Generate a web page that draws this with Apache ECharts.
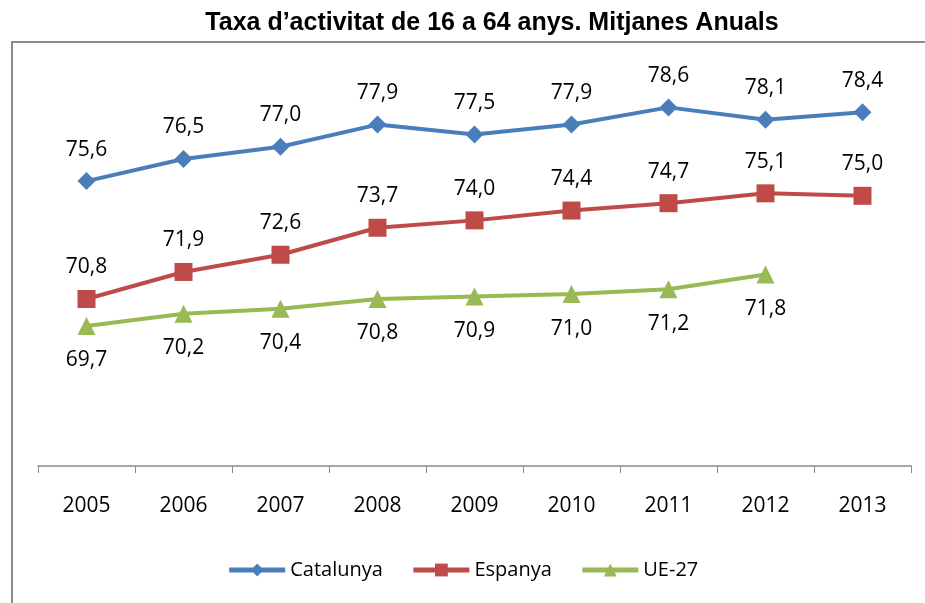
<!DOCTYPE html>
<html>
<head>
<meta charset="utf-8">
<script src="https://cdn.jsdelivr.net/npm/echarts@6/dist/echarts.min.js"></script>
<style>
  html, body { margin: 0; padding: 0; background: #fff; }
  #chart { width: 925px; height: 603px; }
</style>
</head>
<body>
<div id="chart"></div>
<script>
var years = ['2005', '2006', '2007', '2008', '2009', '2010', '2011', '2012', '2013'];
var catalunya = [75.6, 76.5, 77.0, 77.9, 77.5, 77.9, 78.6, 78.1, 78.4];
var espanya = [70.8, 71.9, 72.6, 73.7, 74.0, 74.4, 74.7, 75.1, 75.0];
var ue27 = [69.7, 70.2, 70.4, 70.8, 70.9, 71.0, 71.2, 71.8, null];

var chart = echarts.init(document.getElementById('chart'));
var lblFont = '"Open Sans", "DejaVu Sans", sans-serif';

function fmt(p) {
  return p.value.toFixed(1).replace('.', ',');
}

var option = {
  animation: false,
  title: {
    text: 'Taxa d\u2019activitat de 16 a 64 anys. Mitjanes Anuals',
    left: 487,
    textAlign: 'center',
    top: 6,
    textStyle: { fontFamily: '"Liberation Sans", Arial, sans-serif', fontWeight: 'bold', fontSize: 25, color: '#000' }
  },
  graphic: [{
    type: 'rect',
    shape: { x: 12, y: 42, width: 930, height: 580 },
    style: { fill: 'none', stroke: '#8c8c8c', lineWidth: 2 },
    silent: true
  }],
  grid: { left: 38, right: 14, top: 73, bottom: 137 },
  legend: {
    bottom: 18,
    left: 'center',
    itemWidth: 56,
    itemHeight: 16,
    itemGap: 28,
    lineStyle: { width: 5 },
    textStyle: { fontFamily: lblFont, fontSize: 20, color: '#000' },
    data: ['Catalunya', 'Espanya', 'UE-27']
  },
  xAxis: {
    type: 'category',
    data: years,
    boundaryGap: true,
    axisLine: { lineStyle: { color: '#8c8c8c', width: 1.5 } },
    axisTick: { show: true, length: 7, lineStyle: { color: '#8c8c8c' } },
    axisLabel: { margin: 30, fontFamily: lblFont, fontSize: 21, color: '#000' }
  },
  yAxis: {
    type: 'value',
    min: 64,
    max: 80,
    show: false,
    splitLine: { show: false }
  },
  series: [{
    name: 'Catalunya',
    type: 'line',
    data: catalunya,
    color: '#4A7EBB',
    lineStyle: { width: 4 },
    symbol: 'diamond',
    symbolSize: 18,
    label: { show: true, position: 'top', distance: 12, formatter: fmt, fontFamily: lblFont, fontSize: 21, color: '#000' }
  }, {
    name: 'Espanya',
    type: 'line',
    data: espanya,
    color: '#BE4B48',
    lineStyle: { width: 4 },
    symbol: 'rect',
    symbolSize: 18,
    label: { show: true, position: 'top', distance: 12, formatter: fmt, fontFamily: lblFont, fontSize: 21, color: '#000' }
  }, {
    name: 'UE-27',
    type: 'line',
    data: ue27,
    color: '#98B954',
    lineStyle: { width: 4 },
    symbol: 'triangle',
    symbolSize: 18,
    label: { show: true, position: 'bottom', distance: 15, formatter: fmt, fontFamily: lblFont, fontSize: 21, color: '#000' }
  }]
};

chart.setOption(option);
</script>
</body>
</html>
